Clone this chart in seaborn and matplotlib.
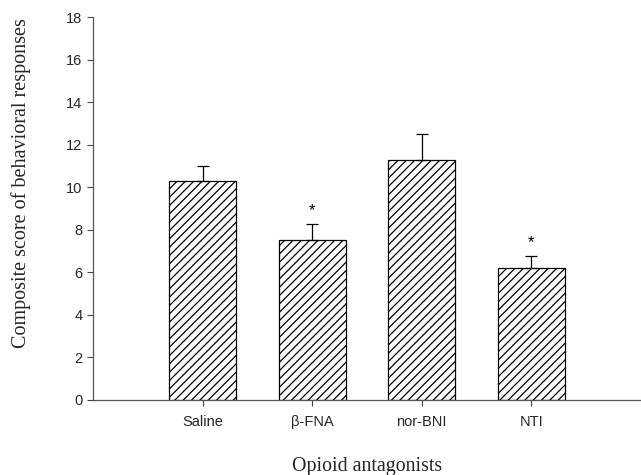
import matplotlib
matplotlib.use("Agg")
import matplotlib.pyplot as plt
import seaborn as sns
import pandas as pd

categories = ["Saline", "\u03b2-FNA", "nor-BNI", "NTI"]
means = [10.3, 7.5, 11.3, 6.2]
sem = [0.7, 0.75, 1.2, 0.55]
significant = [False, True, False, True]
yticks = [0, 2, 4, 6, 8, 10, 12, 14, 16, 18]

df = pd.DataFrame({"group": categories, "score": means})

sns.set_style("white")
plt.rcParams["hatch.linewidth"] = 0.9
plt.rcParams["font.family"] = ["Liberation Sans", "DejaVu Sans"]

fig = plt.figure(figsize=(6.41, 4.75), dpi=100)
ax = fig.add_axes([0.145, 0.158, 0.855, 0.806])

sns.barplot(data=df, x="group", y="score", order=categories, errorbar=None,
            color="white", edgecolor="black", linewidth=0.9, width=0.61,
            hatch="////", ax=ax)

ax.errorbar(range(len(categories)), means, yerr=[[0] * len(sem), sem],
            fmt="none", ecolor="black", elinewidth=0.9, capsize=4.3,
            capthick=0.9)

for i, (m, s, sig) in enumerate(zip(means, sem, significant)):
    if sig:
        ax.text(i, m + s + 0.3, "*", ha="center", va="bottom",
                fontsize=12, color="black")

ax.set_xlim(-1, 4)
ax.set_ylim(0, 18)
ax.set_yticks(yticks)
ax.set_yticklabels([str(t) for t in yticks], fontsize=10.5)
ax.tick_params(axis="both", which="both", direction="out", length=4,
               width=0.8, color="#444444", labelsize=10.5, left=True,
               bottom=True)
ax.tick_params(axis="x", pad=7)

for side in ["top", "right"]:
    ax.spines[side].set_visible(False)
for side in ["left", "bottom"]:
    ax.spines[side].set_color("#555555")
    ax.spines[side].set_linewidth(0.9)

ax.set_xlabel("Opioid antagonists", family="Liberation Serif", fontsize=14.3)
ax.set_ylabel("Composite score of behavioral responses",
              family="Liberation Serif", fontsize=14.5)
ax.xaxis.set_label_coords(0.5, -0.148)
ax.yaxis.set_label_coords(-0.113, 0.567)

fig.savefig("out.png", dpi=100)
